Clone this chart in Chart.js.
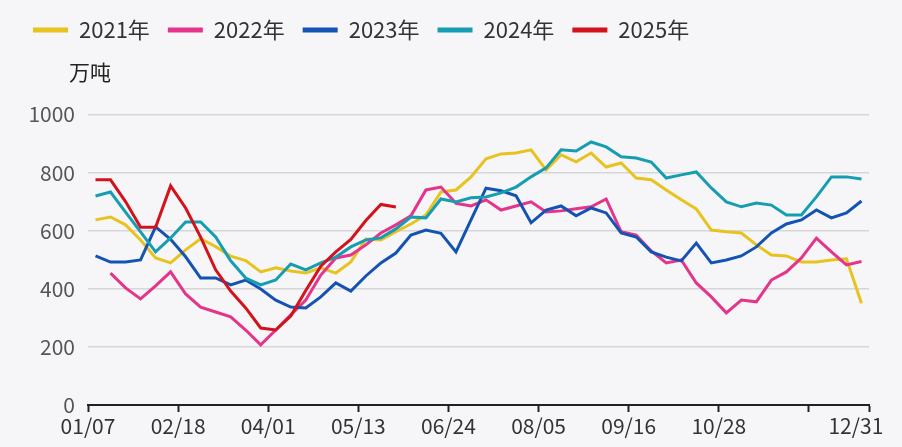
<!DOCTYPE html>
<html>
<head>
<meta charset="utf-8">
<script src="https://cdn.jsdelivr.net/npm/chart.js@4"></script>
<style>
  html, body { margin: 0; padding: 0; background: #f6f6f8; }
  #wrap { width: 902px; height: 447px; }
</style>
</head>
<body>
<div id="wrap"><canvas id="c"></canvas></div>
<script>
// weekly values, 52 weeks per year (万吨)
const years = ['2021年', '2022年', '2023年', '2024年', '2025年'];
const colors = ['#e8c21e', '#e4358b', '#1553b3', '#179db1', '#d2131c'];

const y2021 = [637, 647, 620, 568, 506, 489, 534, 572, 545, 512, 497, 458, 472, 461, 454, 472, 454, 492, 571, 568,
  596, 623, 654, 733, 740, 785, 847, 864, 867, 878, 809, 861, 837, 867, 819, 833, 781, 775, 740, 706,
  675, 602, 596, 592, 551, 516, 513, 492, 492, 499, 503, 350];
const y2022 = [null, 454, 403, 365, 410, 458, 382, 337, 320, 303, 258, 207, 258, 310, 361, 447, 506, 516, 551, 592,
  620, 651, 740, 750, 694, 685, 706, 671, 685, 699, 664, 668, 675, 682, 709, 596, 585, 530, 489, 499,
  420, 372, 317, 361, 355, 430, 458, 506, 574, 527, 482, 494];
const y2023 = [513, 492, 492, 499, 613, 570, 510, 437, 437, 413, 430, 399, 361, 337, 334, 372, 420, 392, 444, 489,
  523, 585, 602, 591, 527, 637, 746, 737, 720, 627, 671, 685, 651, 678, 661, 592, 578, 527, 509, 496,
  557, 489, 499, 513, 544, 592, 623, 637, 671, 644, 661, 702];
const y2024 = [719, 733, 664, 596, 527, 575, 630, 630, 578, 496, 437, 413, 430, 485, 465, 489, 509, 544, 568, 575,
  606, 647, 644, 709, 699, 713, 716, 730, 750, 785, 816, 878, 874, 905, 888, 854, 850, 836, 781, 792,
  802, 747, 699, 682, 695, 688, 654, 654, 716, 785, 785, 778];
const y2025 = [775, 775, 700, 612, 612, 754, 678, 578, 465, 392, 334, 265, 258, 306, 394, 478, 527, 570, 635, 690, 681];

// tick labels sit on week boundaries, one every 6 weeks, plus the year end
const xTickLabels = ['01/07', '02/18', '04/01', '05/13', '06/24', '08/05', '09/16', '10/28', '', '12/31'];
const yTicks = [0, 200, 400, 600, 800, 1000];

const series = [y2021, y2022, y2023, y2024, y2025];
const FONT = "'Noto Sans CJK SC', 'Microsoft YaHei', sans-serif";

const unitLabel = {
    id: 'unitLabel',
    afterDraw(chart) {
        const {ctx, chartArea} = chart;
        ctx.save();
        ctx.font = '21px ' + FONT;
        ctx.fillStyle = '#222';
        ctx.textAlign = 'left';
        ctx.textBaseline = 'middle';
        ctx.fillText('万吨', chartArea.left - 19, chartArea.top - 42);
        ctx.restore();
    }
};

const datasets = series.map((arr, i) => ({
    label: years[i],
    data: arr.map((v, w) => ({x: w, y: v})),
    borderColor: colors[i],
    backgroundColor: colors[i],
    borderWidth: 3,
    pointRadius: 0,
    tension: 0,
    order: series.length - i
}));

new Chart(document.getElementById('c'), {
    type: 'line',
    data: { datasets },
    options: {
        responsive: true,
        maintainAspectRatio: false,
        animation: false,
        layout: { padding: { left: 15, right: 33, top: 1, bottom: 0 } },
        plugins: {
            legend: {
                position: 'top',
                align: 'start',
                labels: {
                    boxWidth: 35,
                    boxHeight: 5,
                    padding: 18,
                    color: '#333',
                    font: { family: FONT, size: 22 },
                    generateLabels: chart => Chart.defaults.plugins.legend.labels.generateLabels(chart)
                        .map(l => ({ ...l, lineWidth: 0, fillStyle: l.strokeStyle }))
                        .sort((a, b) => a.datasetIndex - b.datasetIndex)
                }
            },
            subtitle: {
                display: true,
                text: ' ',
                weight: 500,
                font: { size: 12 },
                padding: { top: 0, bottom: 49 }
            },
            tooltip: { enabled: false }
        },
        scales: {
            x: {
                type: 'linear',
                min: -0.5,
                max: 51.5,
                afterFit: s => {
                    s.height = 42;
                    // don't let the edge labels push the plot inwards
                    s.paddingLeft = 0;
                    s.paddingRight = 0;
                },
                afterBuildTicks: s => {
                    s.ticks = xTickLabels.map((t, k) => ({
                        value: k === xTickLabels.length - 1 ? 51.5 : -0.5 + 6 * k
                    }));
                },
                ticks: {
                    autoSkip: false,
                    maxRotation: 0,
                    padding: 1,
                    color: '#333',
                    font: { family: FONT, size: 21 },
                    // last label is pulled in a little, as in the original
                    callback: (v, i) => i === xTickLabels.length - 1 ? xTickLabels[i] + '\u2003\u2005' : xTickLabels[i]
                },
                grid: {
                    drawOnChartArea: false,
                    tickLength: 7,
                    tickWidth: 2,
                    tickColor: '#222'
                },
                border: { display: true, color: '#222', width: 2 }
            },
            y: {
                min: 0,
                max: 1000,
                afterFit: s => { s.width = 73; },
                afterBuildTicks: s => { s.ticks = yTicks.map(v => ({ value: v })); },
                ticks: {
                    padding: 13,
                    color: '#555',
                    font: { family: FONT, size: 21 },
                    callback: v => String(v)
                },
                grid: {
                    drawTicks: false,
                    color: '#d6d6d9',
                    lineWidth: 1.5
                },
                border: { display: false }
            }
        }
    },
    plugins: [unitLabel]
});
</script>
</body>
</html>
